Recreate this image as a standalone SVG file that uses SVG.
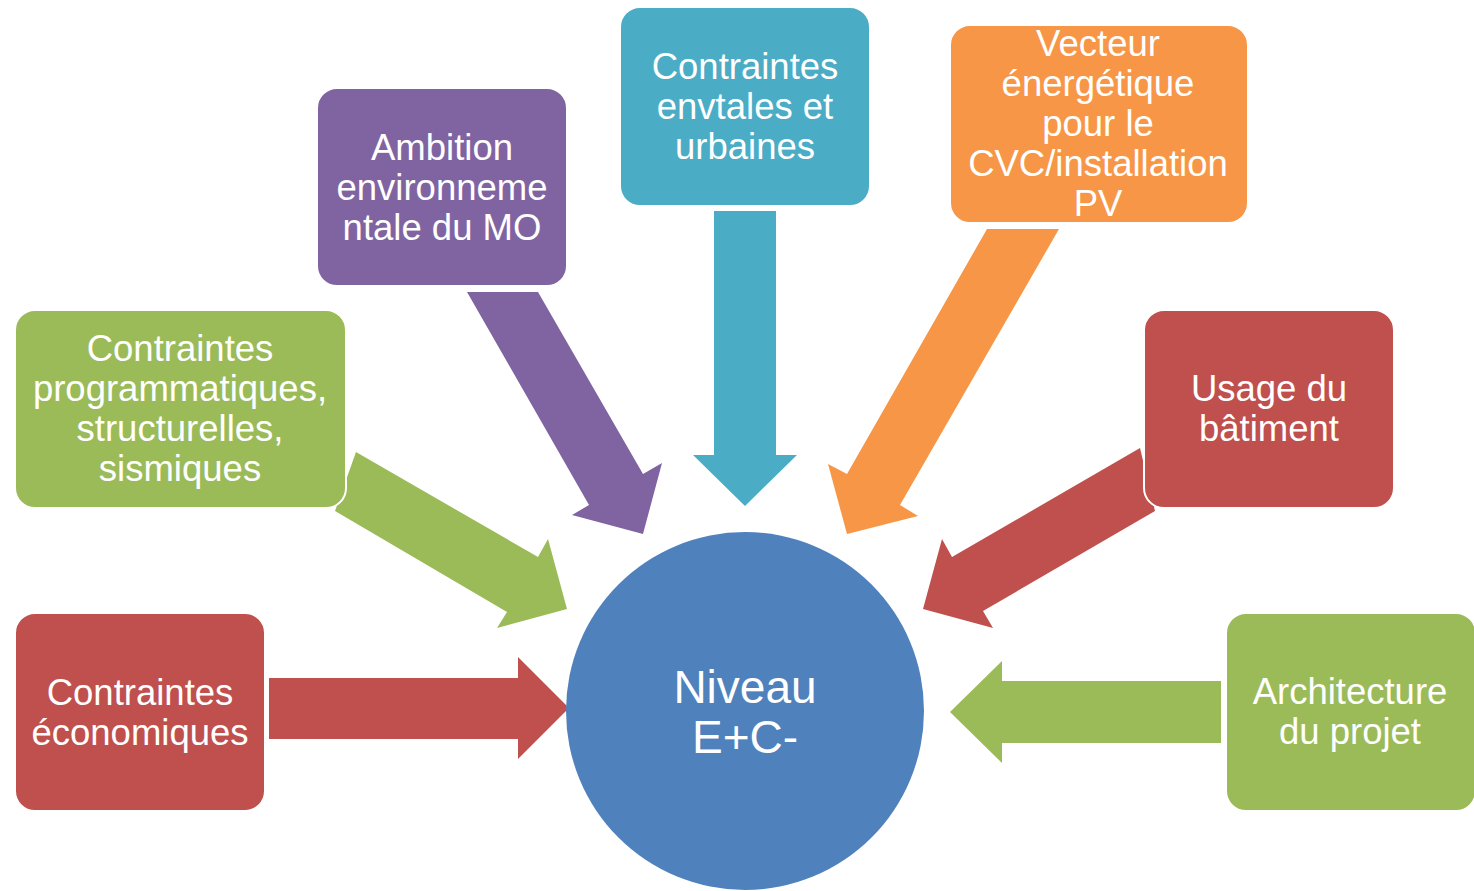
<svg xmlns="http://www.w3.org/2000/svg" width="1474" height="891" viewBox="0 0 1474 891">
<style>
.box{stroke:#ffffff;stroke-width:2}
.t{font-family:"Liberation Sans",Arial,sans-serif;font-size:36.5px;fill:#ffffff;text-anchor:middle}
.tc{font-family:"Liberation Sans",Arial,sans-serif;font-size:46px;fill:#ffffff;text-anchor:middle}
.red{fill:#C0504D}.green{fill:#9BBB59}.purple{fill:#8064A2}.cyan{fill:#4BACC6}.orange{fill:#F79646}.blue{fill:#4F81BD}
</style>
<rect width="1474" height="891" fill="#ffffff"/>
<g id="connectors">
<polygon class="red" points="269,678 518,678 518,657 569,708 518,759 518,739 269,739"/>
<polygon class="green" points="1221,681 1002,681 1002,661 950,712 1002,763 1002,743 1221,743"/>
<polygon class="cyan" points="714,211 776,211 776,455 797,455 745,506 693,455 714,455"/>
<polygon class="green" points="356,452 538,557 548,539 567,609 497,628 507,612 335,511"/>
<polygon class="purple" points="467,292 538,292 643,474 662,463 643,534 572,515 589,505"/>
<polygon class="orange" points="987,229 1059,229 900,505 918,516 847,534 828,464 847,474"/>
<polygon class="red" points="1140,448 952,557 942,539 923,609 993,628 983,611 1155,511"/>
</g>
<g id="center">
<circle class="blue" cx="745" cy="711" r="179"/>
<text class="tc" x="745" y="703">Niveau</text>
<text class="tc" x="745" y="753">E+C-</text>
</g>
<g id="economiques">
<rect class="box red" x="15" y="613" width="250" height="198" rx="20"/>
<text class="t" x="140" y="705">Contraintes</text>
<text class="t" x="140" y="745">économiques</text>
</g>
<g id="programmatiques">
<rect class="box green" x="15" y="310" width="331" height="198" rx="20"/>
<text class="t" x="180" y="361">Contraintes</text>
<text class="t" x="180" y="401">programmatiques,</text>
<text class="t" x="180" y="441">structurelles,</text>
<text class="t" x="180" y="481">sismiques</text>
</g>
<g id="ambition">
<rect class="box purple" x="317" y="88" width="250" height="198" rx="20"/>
<text class="t" x="442" y="160">Ambition</text>
<text class="t" x="442" y="200">environneme</text>
<text class="t" x="442" y="240">ntale du MO</text>
</g>
<g id="envtales">
<rect class="box cyan" x="620" y="7" width="250" height="199" rx="20"/>
<text class="t" x="745" y="79">Contraintes</text>
<text class="t" x="745" y="119">envtales et</text>
<text class="t" x="745" y="159">urbaines</text>
</g>
<g id="vecteur">
<rect class="box orange" x="950" y="25" width="298" height="198" rx="20"/>
<text class="t" x="1098" y="56">Vecteur</text>
<text class="t" x="1098" y="96">énergétique</text>
<text class="t" x="1098" y="136">pour le</text>
<text class="t" x="1098" y="176">CVC/installation</text>
<text class="t" x="1098" y="216">PV</text>
</g>
<g id="usage">
<rect class="box red" x="1144" y="310" width="250" height="198" rx="20"/>
<text class="t" x="1269" y="401">Usage du</text>
<text class="t" x="1269" y="441">bâtiment</text>
</g>
<g id="architecture">
<rect class="box green" x="1226" y="613" width="250" height="198" rx="20"/>
<text class="t" x="1350" y="704">Architecture</text>
<text class="t" x="1350" y="744">du projet</text>
</g>
</svg>
